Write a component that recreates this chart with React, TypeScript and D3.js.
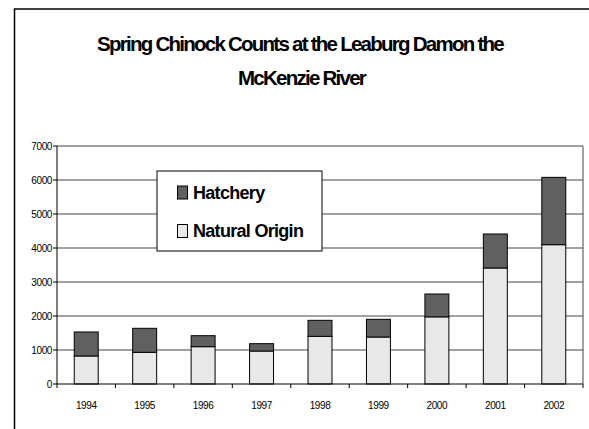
import React, { useEffect, useRef } from "react";
import * as d3 from "d3";

const years = ["1994", "1995", "1996", "1997", "1998", "1999", "2000", "2001", "2002"];
const natural = [824, 932, 1098, 970, 1402, 1382, 1975, 3412, 4098];
const hatchery = [706, 706, 323, 216, 471, 520, 672, 1000, 1980];
const yTicks = [0, 1000, 2000, 3000, 4000, 5000, 6000, 7000];
const seriesNames = ["Hatchery", "Natural Origin"];
const titleLines = ["Spring Chinock Counts at the Leaburg Damon the", "McKenzie River"];

const W = 589;
const H = 429;

export default function App() {
  const ref = useRef<SVGSVGElement | null>(null);
  useEffect(() => {
    const svg = d3.select(ref.current);
    svg.selectAll("*").remove();
    const font = "'Liberation Sans', Arial, sans-serif";

    // outer frame
    svg.append("rect").attr("x", 14.5).attr("y", 9).attr("width", W).attr("height", H)
      .attr("fill", "white").attr("stroke", "#000").attr("stroke-width", 1.5);

    // title
    const tx = [300, 301.5];
    titleLines.forEach((t, i) => {
      svg.append("text").attr("x", tx[i]).attr("y", 50.5 + i * 34.5)
        .attr("text-anchor", "middle").attr("font-family", font).attr("font-weight", "bold")
        .attr("font-size", 20.5).attr("letter-spacing", -1.75)
        .text(t);
    });

    const left = 57, right = 583, top = 146, bottom = 384;
    const x = d3.scaleBand().domain(years).range([left, right]).paddingInner(0.59).paddingOuter(0.295);
    const xOuter = d3.scaleBand().domain(years).range([left, right]);
    const y = d3.scaleLinear().domain([0, 7000]).range([bottom, top]);

    // gridlines
    svg.append("g").selectAll("line").data(yTicks.filter(d => d > 0)).join("line")
      .attr("x1", left).attr("x2", right).attr("y1", d => y(d)).attr("y2", d => y(d))
      .attr("stroke", "#444").attr("stroke-width", 1);
    // right border
    svg.append("line").attr("x1", right).attr("x2", right).attr("y1", top).attr("y2", bottom)
      .attr("stroke", "#444").attr("stroke-width", 1);

    // bars
    const g = svg.append("g");
    years.forEach((yr, i) => {
      const bx = x(yr)!;
      const bw = x.bandwidth();
      g.append("rect").attr("x", bx).attr("width", bw)
        .attr("y", y(natural[i])).attr("height", y(0) - y(natural[i]))
        .attr("fill", "#e8e8e8").attr("stroke", "#000").attr("stroke-width", 1);
      g.append("rect").attr("x", bx).attr("width", bw)
        .attr("y", y(natural[i] + hatchery[i])).attr("height", y(natural[i]) - y(natural[i] + hatchery[i]))
        .attr("fill", "#606060").attr("stroke", "#000").attr("stroke-width", 1);
    });

    // axes
    svg.append("line").attr("x1", left).attr("x2", left).attr("y1", top).attr("y2", bottom)
      .attr("stroke", "#000").attr("stroke-width", 1);
    svg.append("line").attr("x1", left).attr("x2", right).attr("y1", bottom).attr("y2", bottom)
      .attr("stroke", "#000").attr("stroke-width", 1);
    // y ticks
    yTicks.forEach(t => {
      svg.append("line").attr("x1", left - 4).attr("x2", left).attr("y1", y(t)).attr("y2", y(t))
        .attr("stroke", "#000");
      svg.append("text").attr("x", 52).attr("y", y(t) + 3.5).attr("text-anchor", "end")
        .attr("font-family", font).attr("font-size", 10).attr("letter-spacing", -0.4)
        .text(String(t));
    });
    // x ticks
    const bounds = years.map(yr => xOuter(yr)!).concat([right]);
    bounds.forEach(b => {
      svg.append("line").attr("x1", b).attr("x2", b).attr("y1", bottom).attr("y2", bottom + 4)
        .attr("stroke", "#000");
    });
    years.forEach(yr => {
      svg.append("text").attr("x", xOuter(yr)! + xOuter.bandwidth() / 2).attr("y", 409)
        .attr("text-anchor", "middle").attr("font-family", font).attr("font-size", 10)
        .attr("letter-spacing", -0.4).text(yr);
    });

    // legend
    svg.append("rect").attr("x", 157).attr("y", 171).attr("width", 165).attr("height", 80)
      .attr("fill", "white").attr("stroke", "#000").attr("stroke-width", 1);
    const colors = ["#606060", "#e8e8e8"];
    seriesNames.forEach((n, i) => {
      const ly = 186 + i * 38.5;
      svg.append("rect").attr("x", 177.5).attr("y", ly).attr("width", 10).attr("height", 13)
        .attr("fill", colors[i]).attr("stroke", "#000").attr("stroke-width", 1);
      svg.append("text").attr("x", 193).attr("y", ly + 12.5).attr("font-family", font)
        .attr("font-weight", "bold").attr("font-size", 18).attr("letter-spacing", -0.7)
        .text(n);
    });
  }, []);
  return (
    <svg ref={ref} width={W} height={H}
      style={{ position: "absolute", left: 0, top: 0, background: "white" }} />
  );
}
